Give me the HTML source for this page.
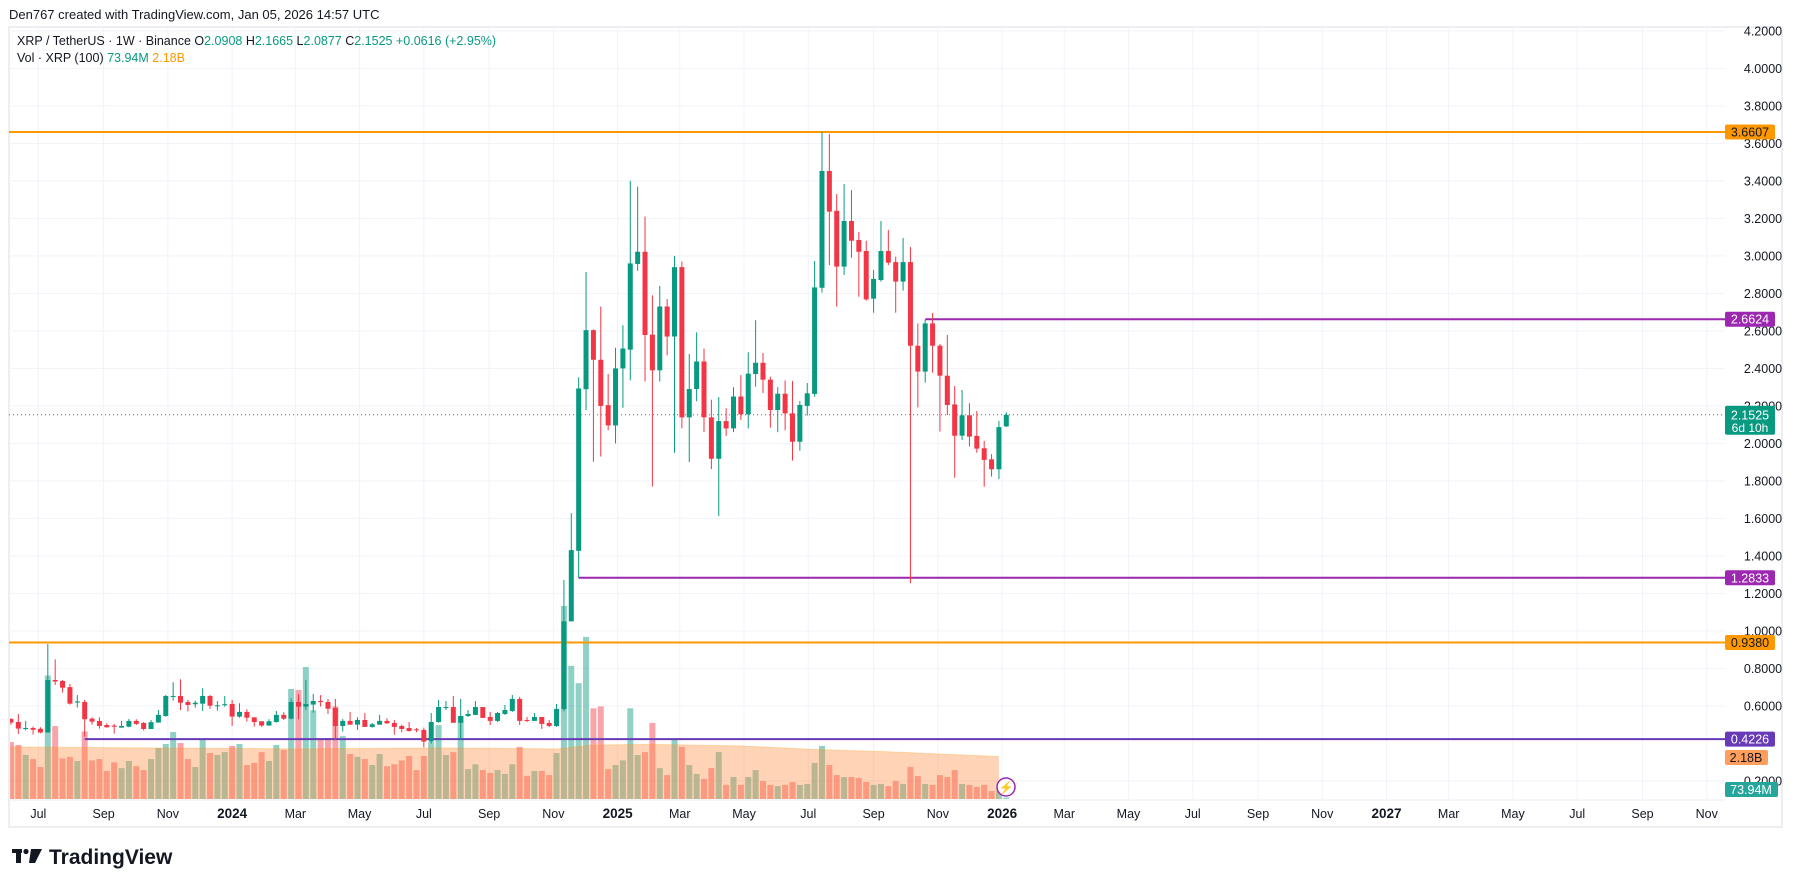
<!DOCTYPE html>
<html><head><meta charset="utf-8"><style>
html,body{margin:0;padding:0;background:#fff;width:1793px;height:887px;overflow:hidden;font-family:"Liberation Sans",sans-serif;}
svg{display:block}
</style></head><body>
<svg id="chart" width="1793" height="887" viewBox="0 0 1793 887" xmlns="http://www.w3.org/2000/svg" font-family="Liberation Sans, sans-serif">
<text x="9" y="19" font-size="13" fill="#131722">Den767 created with TradingView.com, Jan 05, 2026 14:57 UTC</text>
<rect x="9" y="27" width="1773" height="800" fill="#fff" stroke="#eceef2" stroke-width="2"/>
<g id="grid"></g>
<g id="vol"></g>
<g id="levels"></g>
<g id="candles"></g>
<g id="axes"></g>
<g font-size="12.5">
<text x="17" y="45" fill="#131722">XRP / TetherUS · 1W · Binance  O<tspan fill="#089981">2.0908</tspan>  H<tspan fill="#089981">2.1665</tspan>  L<tspan fill="#089981">2.0877</tspan>  C<tspan fill="#089981">2.1525</tspan>  <tspan fill="#089981">+0.0616 (+2.95%)</tspan></text>
<text x="17" y="62" fill="#131722">Vol · XRP (100)  <tspan fill="#089981">73.94M</tspan>  <tspan fill="#ff9800">2.18B</tspan></text>
</g>
<g><circle cx="1006" cy="787" r="9" fill="#fff" stroke="#9c27b0" stroke-width="1.5"/><text x="1006" y="791.5" text-anchor="middle" font-size="12" fill="#9c27b0">⚡</text></g>
<g>
<rect x="12" y="849" width="10" height="4" fill="#131722"/><rect x="16" y="849" width="5" height="14" fill="#131722"/><circle cx="26" cy="851.5" r="2.6" fill="#131722"/><polygon points="31,849 42,849 35,863 29,863" fill="#131722"/>
<text x="49" y="864" font-size="21" font-weight="bold" fill="#131722">TradingView</text></g>
</svg>
<script>
const openP=[.53,.514,.478,.482,.478,.458,.738,.733,.70,.618,.621,.532,.52,.498,.495,.484,.489,.52,.509,.477,.511,.546,.648,.653,.621,.609,.612,.653,.60,.607,.61,.543,.568,.539,.518,.495,.514,.552,.532,.621,.596,.607,.626,.621,.589,.493,.52,.50,.525,.488,.50,.52,.509,.493,.482,.475,.472,.41,.514,.591,.594,.51,.546,.552,.594,.541,.52,.557,.573,.637,.525,.52,.541,.509,.493,.583,1.051,1.427,2.289,2.604,2.446,2.204,2.096,2.40,2.50,2.957,3.022,2.58,2.39,2.73,2.57,2.94,2.139,2.29,2.437,2.139,1.918,2.119,2.08,2.25,2.155,2.37,2.43,2.34,2.178,2.265,2.16,2.009,2.20,2.264,2.83,3.453,3.24,2.943,3.186,3.085,3.026,2.772,2.871,3.026,2.967,2.863,2.967,2.521,2.383,2.64,2.521,2.361,2.208,2.041,2.15,2.04,1.974,1.915,1.862,2.0908];
const highP=[.535,.557,.52,.49,.486,.93,.848,.738,.717,.658,.632,.539,.539,.507,.504,.52,.53,.529,.514,.525,.578,.658,.726,.742,.632,.628,.694,.658,.626,.653,.632,.614,.582,.539,.518,.529,.573,.566,.64,.662,.738,.664,.658,.637,.637,.53,.568,.539,.562,.509,.552,.534,.525,.50,.514,.482,.484,.562,.632,.626,.653,.637,.578,.626,.594,.568,.568,.605,.658,.648,.541,.562,.541,.525,.61,1.271,1.628,2.352,2.914,2.608,2.73,2.37,2.51,2.63,3.40,3.37,3.21,2.79,2.84,2.77,3.00,2.97,2.476,2.592,2.505,2.233,2.247,2.188,2.30,2.364,2.486,2.657,2.482,2.356,2.30,2.336,2.333,2.226,2.322,2.973,3.661,3.65,3.33,3.383,3.351,3.127,3.08,2.925,3.186,3.138,2.996,3.095,3.047,2.64,2.66,2.695,2.53,2.578,2.306,2.285,2.214,2.173,2.013,1.943,2.12,2.1665];
const lowP=[.50,.45,.47,.447,.454,.457,.712,.671,.607,.591,.436,.50,.479,.484,.452,.484,.486,.498,.468,.477,.511,.543,.628,.578,.57,.591,.573,.584,.575,.596,.493,.537,.516,.489,.489,.495,.511,.525,.529,.529,.578,.564,.596,.557,.418,.463,.50,.472,.488,.484,.50,.504,.447,.459,.463,.459,.379,.399,.51,.578,.51,.418,.541,.552,.536,.498,.514,.552,.568,.498,.514,.52,.477,.488,.488,.571,1.05,1.283,2.178,1.902,1.93,2.07,2.00,2.19,2.336,2.92,2.33,1.77,2.33,2.47,1.95,2.08,1.90,2.225,2.06,1.863,1.613,2.04,2.06,2.125,2.08,2.302,2.269,2.084,2.06,2.07,1.908,1.961,2.148,2.249,2.804,2.951,2.729,2.898,2.99,2.782,2.761,2.697,2.863,2.951,2.697,2.815,1.254,2.192,2.324,2.377,2.063,2.151,1.817,2.018,1.983,1.95,1.769,1.823,1.81,2.0877];
const closeP=[.511,.479,.482,.473,.458,.738,.73,.697,.612,.624,.529,.516,.493,.486,.489,.493,.52,.504,.477,.513,.552,.653,.653,.617,.605,.617,.653,.601,.603,.609,.543,.568,.537,.514,.495,.518,.552,.532,.621,.596,.610,.626,.622,.585,.493,.52,.50,.525,.488,.502,.52,.507,.488,.477,.466,.47,.41,.514,.594,.594,.51,.546,.557,.594,.536,.52,.562,.578,.637,.52,.52,.541,.504,.493,.584,1.051,1.431,2.293,2.604,2.446,2.20,2.096,2.40,2.506,2.96,3.022,2.578,2.39,2.73,2.57,2.94,2.139,2.29,2.437,2.139,1.918,2.119,2.08,2.25,2.155,2.372,2.43,2.34,2.178,2.265,2.16,2.009,2.205,2.267,2.832,3.453,3.236,2.943,3.186,3.081,3.022,2.768,2.877,3.026,2.964,2.863,2.967,2.521,2.383,2.64,2.521,2.361,2.205,2.041,2.15,2.036,1.972,1.912,1.862,2.087,2.1525];
const volumeB=[2.95,2.8,2.28,2.07,1.66,6.4,3.78,2.1,2.18,1.97,3.5,2.0,2.07,1.45,1.9,1.6,1.97,1.7,1.5,2.07,2.64,2.85,3.47,2.9,2.07,1.66,3.06,2.38,2.28,2.43,2.75,2.85,1.76,1.87,2.43,1.97,2.8,2.54,5.7,5.65,6.84,4.6,3.1,3.16,4.8,3.26,2.33,2.18,2.07,1.76,2.33,1.7,1.8,2.0,2.23,1.5,2.23,2.95,3.83,2.28,2.43,4.3,1.55,1.8,1.5,1.35,1.5,1.3,1.8,2.7,1.2,1.45,1.45,1.24,2.38,10.0,6.9,6.0,8.4,4.7,4.8,1.55,1.76,2.0,4.7,2.28,2.43,3.94,1.6,1.24,3.1,2.7,1.76,1.3,1.04,1.6,2.43,0.73,1.14,0.73,1.14,1.5,0.93,0.73,0.67,0.73,0.88,0.73,0.78,1.87,2.75,1.76,1.24,1.14,1.14,1.09,0.88,0.73,0.78,0.67,0.93,0.78,1.66,1.19,0.78,0.73,1.24,1.14,1.5,0.78,0.73,0.62,0.73,0.41,0.41,0.074];
const maCandle=[1,20,40,60,75,80,88,100,110,120,135];
const maValue=[2.7,2.65,2.6,2.65,2.6,2.8,2.83,2.75,2.57,2.45,2.2];
const priceTicks=[4.2,4.0,3.8,3.6,3.4,3.2,3.0,2.8,2.6,2.4,2.2,2.0,1.8,1.6,1.4,1.2,1.0,0.8,0.6,0.2];
const timeTickLabels=["Jul","Sep","Nov","2024","Mar","May","Jul","Sep","Nov","2025","Mar","May","Jul","Sep","Nov","2026","Mar","May","Jul","Sep","Nov","2027","Mar","May","Jul","Sep","Nov"];
const timeTickDates=["2023-07-01","2023-09-01","2023-11-01","2024-01-01","2024-03-01","2024-05-01","2024-07-01","2024-09-01","2024-11-01","2025-01-01","2025-03-01","2025-05-01","2025-07-01","2025-09-01","2025-11-01","2026-01-01","2026-03-01","2026-05-01","2026-07-01","2026-09-01","2026-11-01","2027-01-01","2027-03-01","2027-05-01","2027-07-01","2027-09-01","2027-11-01"];
const levelPrices=[3.6607,2.6624,1.2833,0.938,0.4226];
const levelStartCandle=[0,125,78,0,11];
const levelColors=["#ff9800","#9c27b0","#9c27b0","#ff9800","#673ab7"];
const lastPrice=2.1525;

const NS="http://www.w3.org/2000/svg";
const PL=9,PR=1725,PT=27,PB=799;
const N=openP.length;
const step=7.373, x0=1006.3-(N-1)*step;
const xOf=i=>x0+i*step;
const yP=p=>30.9+(4.2-p)*187.5;
const yV=v=>PB-v*19.3;
const lastDate=Date.UTC(2026,0,5);
const xDate=s=>{const d=(Date.parse(s+"T00:00:00Z")-lastDate)/864e5;return xOf(N-1)+d/7*step;};
function mk(tag,attrs,parent){const e=document.createElementNS(NS,tag);for(const k in attrs)e.setAttribute(k,attrs[k]);parent.appendChild(e);return e;}
const svg=document.getElementById('chart');
const defs=mk('defs',{},svg);
const cp=mk('clipPath',{id:'plotclip'},defs);mk('rect',{x:PL+1,y:PT+1,width:PR-PL-1,height:PB-PT},cp);

const grid=document.getElementById('grid');
priceTicks.forEach(p=>{const l=mk('line',{x1:PL,x2:PR,y1:yP(p),y2:yP(p),stroke:'#f0f3fa','stroke-width':1},grid);

});
timeTickDates.forEach(d=>{const x=xDate(d);const l=mk('line',{x1:x,x2:x,y1:PT,y2:PB,stroke:'#f0f3fa','stroke-width':1},grid);

});

const vol=document.getElementById('vol');vol.setAttribute('clip-path','url(#plotclip)');
for(let i=0;i<N;i++){const up=closeP[i]>=openP[i];const y=yV(volumeB[i]);
const r=mk('rect',{x:xOf(i)-3,y:y,width:6,height:PB-y,fill:up?'rgba(8,153,129,0.45)':'rgba(242,54,69,0.45)'},vol);

}
let pts=[];for(let k=0;k<maCandle.length;k++)pts.push(xOf(maCandle[k]-1)+','+yV(maValue[k]));
let poly=xOf(maCandle[0]-1)+','+PB+' '+pts.join(' ')+' '+xOf(maCandle[maCandle.length-1]-1)+','+PB;
const ma=mk('polygon',{points:poly,fill:'rgba(255,140,60,0.38)'},vol);


const mal=mk('polyline',{points:pts.join(' '),fill:'none',stroke:'rgba(255,152,0,0.25)','stroke-width':1},vol);



const lv=document.getElementById('levels');
const dl=mk('line',{x1:PL,x2:PR,y1:yP(lastPrice),y2:yP(lastPrice),stroke:'#089981','stroke-width':1,'stroke-dasharray':'1 3'},lv);


levelPrices.forEach((p,k)=>{const xs=levelStartCandle[k]?xOf(levelStartCandle[k]-1):PL;
const l=mk('line',{x1:xs,x2:PR,y1:yP(p),y2:yP(p),stroke:levelColors[k],'stroke-width':2},lv);

});

const cg=document.getElementById('candles');cg.setAttribute('clip-path','url(#plotclip)');
for(let i=0;i<N;i++){const up=closeP[i]>=openP[i];const c=up?'#089981':'#f23645';const x=xOf(i);
const g=mk('g',{},cg);


mk('line',{x1:x,x2:x,y1:yP(highP[i]),y2:yP(lowP[i]),stroke:c,'stroke-width':1},g);
const yt=yP(Math.max(openP[i],closeP[i])),yb=yP(Math.min(openP[i],closeP[i]));
mk('rect',{x:x-2.5,y:yt,width:5,height:Math.max(1,yb-yt),fill:c},g);}

const ax=document.getElementById('axes');
mk('line',{x1:PL,x2:PR,y1:PB+1,y2:PB+1,stroke:'#eceef2','stroke-width':1},ax);
priceTicks.forEach(p=>{const t=mk('text',{x:1763,y:yP(p)+4.5,'text-anchor':'middle','font-size':12.5,fill:'#131722'},ax);t.textContent=p.toFixed(4);

});
timeTickLabels.forEach((s,k)=>{const yr=/^\d{4}$/.test(s);const t=mk('text',{x:xDate(timeTickDates[k]),y:818,'text-anchor':'middle','font-size':yr?13.5:12.5,'font-weight':yr?'bold':'normal',fill:'#131722'},ax);t.textContent=s;

});
const tags=[[3.6607,'3.6607','#ff9800','#131722'],[2.6624,'2.6624','#9c27b0','#fff'],[1.2833,'1.2833','#9c27b0','#fff'],[0.938,'0.9380','#ff9800','#131722'],[0.4226,'0.4226','#673ab7','#fff']];
tags.forEach(tg=>{const y=yP(tg[0]);const g=mk('g',{},ax);


mk('rect',{x:1725,y:y-7.5,width:50,height:15,rx:2,fill:tg[2]},g);
const t=mk('text',{x:1750,y:y+4.5,'text-anchor':'middle','font-size':12.5,fill:tg[3]},g);t.textContent=tg[1];});
{const y=yP(lastPrice);const g=mk('g',{},ax);


mk('rect',{x:1725,y:y-9,width:50,height:29,rx:2,fill:'#089981'},g);
const t=mk('text',{x:1750,y:y+4.5,'text-anchor':'middle','font-size':12.5,fill:'#fff'},g);t.textContent='2.1525';
const t2=mk('text',{x:1750,y:y+17,'text-anchor':'middle','font-size':12,fill:'#fff'},g);t2.textContent='6d 10h';}
{const g=mk('g',{},ax);


mk('rect',{x:1725,y:750,width:43,height:15,rx:2,fill:'#ff9d5c'},g);
const t=mk('text',{x:1746,y:762,'text-anchor':'middle','font-size':12.5,fill:'#131722'},g);t.textContent='2.18B';}
{const g=mk('g',{},ax);


mk('rect',{x:1725,y:782,width:53,height:15,rx:2,fill:'#26a69a'},g);
const t=mk('text',{x:1751,y:794,'text-anchor':'middle','font-size':12.5,fill:'#fff'},g);t.textContent='73.94M';}
</script>
</body></html>
